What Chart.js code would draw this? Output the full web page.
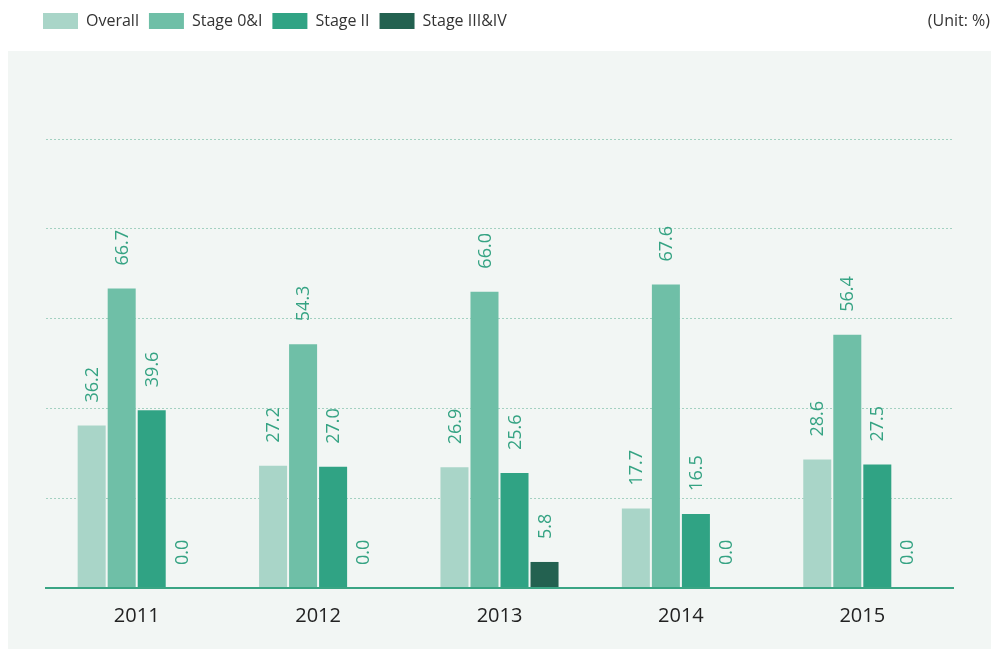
<!DOCTYPE html>
<html>
<head>
<meta charset="utf-8">
<script src="https://cdn.jsdelivr.net/npm/chart.js@4.4.0/dist/chart.umd.min.js"></script>
<style>
  html, body { margin: 0; padding: 0; background: #ffffff; }
  #wrap { width: 994px; height: 649px; position: relative; }
</style>
</head>
<body>
<div id="wrap"><canvas id="survivalChart" width="994" height="649"></canvas></div>
<script>
// Data
const years = ['2011', '2012', '2013', '2014', '2015'];
const overall = [36.2, 27.2, 26.9, 17.7, 28.6];
const stage0and1 = [66.7, 54.3, 66.0, 67.6, 56.4];
const stage2 = [39.6, 27.0, 25.6, 16.5, 27.5];
const stage3and4 = [0.0, 0.0, 5.8, 0.0, 0.0];
const gridTicks = [0, 20, 40, 60, 80, 100];

const FONT = '"Open Sans", "Noto Sans", sans-serif';
const LABEL_GREEN = '#35a383';

// grey-green panel behind the plot
const panelPlugin = {
    id: 'panel',
    beforeDraw(chart) {
        const c = chart.ctx;
        c.save();
        c.fillStyle = '#f2f6f4';
        c.fillRect(8, 51, 983, 598);
        c.fillStyle = '#333333';
        c.font = '16px ' + FONT;
        c.textAlign = 'right';
        c.textBaseline = 'middle';
        c.fillText('(Unit: %)', 990, 21);
        c.restore();
    }
};

// rotated value labels on top of each bar
const valueLabels = {
    id: 'valueLabels',
    afterDatasetsDraw(chart) {
        const c = chart.ctx;
        c.save();
        c.fillStyle = LABEL_GREEN;
        c.font = '18px ' + FONT;
        c.textAlign = 'left';
        c.textBaseline = 'middle';
        chart.data.datasets.forEach((ds, i) => {
            chart.getDatasetMeta(i).data.forEach((bar, j) => {
                c.save();
                c.translate(bar.x, bar.y - 23);
                c.rotate(-Math.PI / 2);
                c.fillText(ds.data[j].toFixed(1), 0, 1);
                c.restore();
            });
        });
        c.restore();
    }
};

// push the plot down below the legend
const legendSpace = {
    id: 'legendSpace',
    beforeInit(chart) {
        const fit = chart.legend.fit;
        chart.legend.fit = function () {
            fit.bind(chart.legend)();
            this.height += 100;
        };
    }
};

const ctx = document.getElementById('survivalChart').getContext('2d');
const survivalChart = new Chart(ctx, {
    type: 'bar',
    data: {
        labels: years,
        datasets: [
            { label: 'Overall', data: overall, backgroundColor: '#a9d5c8' },
            { label: 'Stage 0&I', data: stage0and1, backgroundColor: '#6fbfa7' },
            { label: 'Stage II', data: stage2, backgroundColor: '#30a384' },
            { label: 'Stage III&IV', data: stage3and4, backgroundColor: '#236150' }
        ]
    },
    options: {
        responsive: false,
        animation: false,
        layout: { padding: { left: 33, right: 41, top: 3, bottom: 13 } },
        datasets: {
            bar: { categoryPercentage: 0.662, barPercentage: 0.933, borderWidth: 0 }
        },
        plugins: {
            legend: {
                position: 'top',
                align: 'start',
                labels: {
                    boxWidth: 35,
                    boxHeight: 16,
                    padding: 10,
                    color: '#333333',
                    font: { family: FONT, size: 16 }
                }
            },
            tooltip: { enabled: false }
        },
        scales: {
            x: {
                grid: { display: false },
                border: { display: true, color: '#3aa584', width: 2, z: 1 },
                ticks: { color: '#222222', padding: 8, font: { family: FONT, size: 20 } }
            },
            y: {
                min: 0,
                max: 100,
                afterBuildTicks(scale) {
                    scale.ticks = gridTicks.map(v => ({ value: v }));
                },
                afterFit(scale) { scale.width = 13; },
                ticks: { display: false },
                grid: {
                    drawTicks: false,
                    color: ctx2 => ctx2.tick.value === 0 ? 'rgba(0,0,0,0)' : '#a3d1c1',
                    lineWidth: 1
                },
                border: { display: false, dash: [2, 2] }
            }
        }
    },
    plugins: [panelPlugin, valueLabels, legendSpace]
});
</script>
</body>
</html>
